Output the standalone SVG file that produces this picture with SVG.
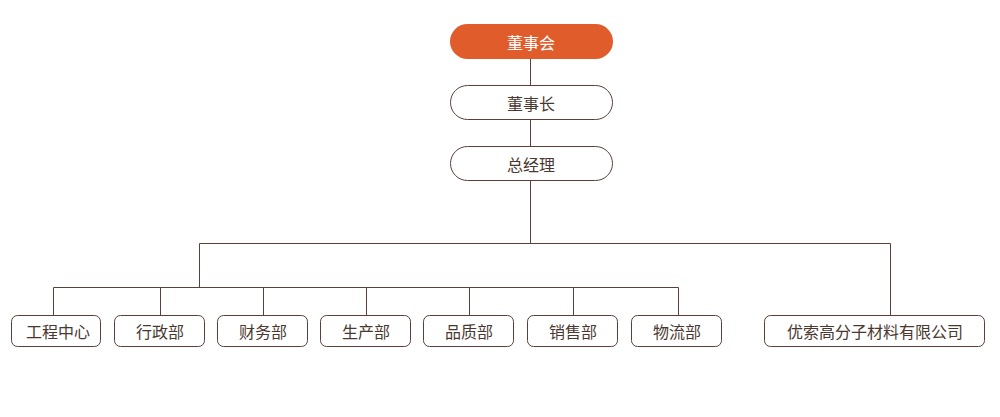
<svg xmlns="http://www.w3.org/2000/svg" width="1000" height="417" viewBox="0 0 1000 417">
<style>
.box{fill:#fff;stroke:#5a4038;stroke-width:1}
.top{fill:#e05c2b;stroke:none}
.t{font-family:"Noto Sans CJK SC","Noto Sans",sans-serif;font-size:16px;fill:#4a3830;text-anchor:middle;dominant-baseline:central}
.tw{fill:#fff}
.ln{stroke:#5a4038;stroke-width:1;fill:none}
</style>
<rect width="1000" height="417" fill="#fff"/>
<g id="connectors">
<path class="ln" d="M530.5 58V243.5M199.5 243.5H890.5V315M199.5 243.5V287.5M53.5 287.5H678.5M53.5 287.5V315M160.5 287.5V315M263.5 287.5V315M366.5 287.5V315M469.5 287.5V315M573.5 287.5V315M678.5 287.5V315"/>
</g>
<g id="n-board"><rect class="top" x="450" y="24" width="163" height="35" rx="17.5"/><text class="t tw" x="531" y="41.5">董事会</text></g>
<g id="n-chairman"><rect class="box" x="450.5" y="85.5" width="162" height="34" rx="17"/><text class="t" x="531" y="102.5">董事长</text></g>
<g id="n-gm"><rect class="box" x="450.5" y="146.5" width="162" height="34" rx="17"/><text class="t" x="531" y="163.5">总经理</text></g>
<g id="n-eng"><rect class="box" x="11.5" y="315.5" width="89" height="31" rx="6"/><text class="t" x="58" y="331">工程中心</text></g>
<g id="n-admin"><rect class="box" x="114.5" y="315.5" width="90" height="31" rx="6"/><text class="t" x="160" y="331">行政部</text></g>
<g id="n-fin"><rect class="box" x="217.5" y="315.5" width="90" height="31" rx="6"/><text class="t" x="263" y="331">财务部</text></g>
<g id="n-prod"><rect class="box" x="320.5" y="315.5" width="90" height="31" rx="6"/><text class="t" x="366" y="331">生产部</text></g>
<g id="n-qa"><rect class="box" x="423.5" y="315.5" width="90" height="31" rx="6"/><text class="t" x="469" y="331">品质部</text></g>
<g id="n-sales"><rect class="box" x="527.5" y="315.5" width="90" height="31" rx="6"/><text class="t" x="573" y="331">销售部</text></g>
<g id="n-log"><rect class="box" x="631.5" y="315.5" width="90" height="31" rx="6"/><text class="t" x="677" y="331">物流部</text></g>
<g id="n-sub"><rect class="box" x="764.5" y="315.5" width="220" height="31" rx="6"/><text class="t" x="875" y="331">优索高分子材料有限公司</text></g>
</svg>
